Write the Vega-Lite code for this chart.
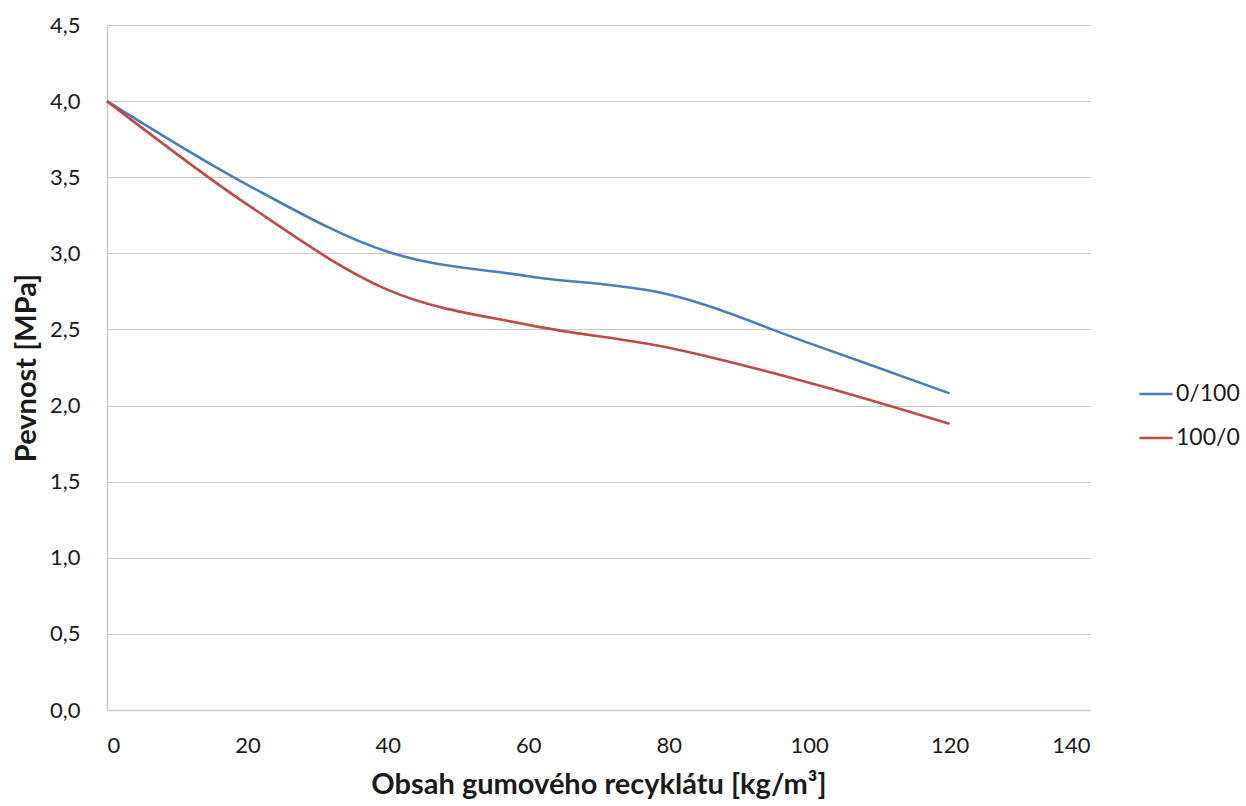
{
  "$schema": "https://vega.github.io/schema/vega-lite/v6.json",
  "width": 983,
  "height": 685,
  "autosize": "none",
  "padding": {"left": 107, "top": 25, "right": 156, "bottom": 96},
  "background": "white",
  "config": {
    "font": "Lato",
    "view": {"stroke": null}
  },
  "data": {
    "values": [
      {"x": 0, "y": 4.0, "s": "0/100"},
      {"x": 20, "y": 3.45, "s": "0/100"},
      {"x": 40, "y": 3.01, "s": "0/100"},
      {"x": 60, "y": 2.85, "s": "0/100"},
      {"x": 80, "y": 2.73, "s": "0/100"},
      {"x": 100, "y": 2.41, "s": "0/100"},
      {"x": 120, "y": 2.08, "s": "0/100"},
      {"x": 0, "y": 4.0, "s": "100/0"},
      {"x": 20, "y": 3.32, "s": "100/0"},
      {"x": 40, "y": 2.76, "s": "100/0"},
      {"x": 60, "y": 2.53, "s": "100/0"},
      {"x": 80, "y": 2.38, "s": "100/0"},
      {"x": 100, "y": 2.15, "s": "100/0"},
      {"x": 120, "y": 1.88, "s": "100/0"}
    ]
  },
  "mark": {"type": "line", "interpolate": "cardinal", "strokeWidth": 2.6},
  "encoding": {
    "x": {
      "field": "x",
      "type": "quantitative",
      "scale": {"domain": [0, 140], "nice": false},
      "axis": {
        "values": [0, 20, 40, 60, 80, 100, 120, 140],
        "title": "Obsah gumového recyklátu [kg/m³]",
        "titleFontSize": 29,
        "titleFontWeight": "bold",
        "titleColor": "#1a1a1a",
        "titlePadding": 14,
        "labelFontSize": 22,
        "labelColor": "#1a1a1a",
        "labelPadding": 25,
        "ticks": false,
        "grid": false,
        "domainColor": "#c8c8c8",
        "domainWidth": 1.5
      }
    },
    "y": {
      "field": "y",
      "type": "quantitative",
      "scale": {"domain": [0, 4.5], "nice": false},
      "axis": {
        "values": [0, 0.5, 1, 1.5, 2, 2.5, 3, 3.5, 4, 4.5],
        "labelExpr": "replace(format(datum.value, '.1f'), '.', ',')",
        "title": "Pevnost [MPa]",
        "titleFontSize": 29,
        "titleFontWeight": "bold",
        "titleColor": "#1a1a1a",
        "titlePadding": 8,
        "labelFontSize": 22,
        "labelColor": "#1a1a1a",
        "labelPadding": 27,
        "ticks": false,
        "grid": true,
        "gridColor": "#c8c8c8",
        "gridWidth": 1.2,
        "domainColor": "#c8c8c8",
        "domainWidth": 1.5
      }
    },
    "color": {
      "field": "s",
      "type": "nominal",
      "scale": {"domain": ["0/100", "100/0"], "range": ["#4a7ebb", "#be4b48"]},
      "legend": {
        "title": null,
        "orient": "none",
        "legendX": 1031,
        "legendY": 351,
        "symbolType": "stroke",
        "symbolSize": 1100,
        "symbolStrokeWidth": 2.6,
        "labelFontSize": 23,
        "labelColor": "#1a1a1a",
        "labelOffset": 2,
        "rowPadding": 14,
        "padding": 0
      }
    }
  }
}
